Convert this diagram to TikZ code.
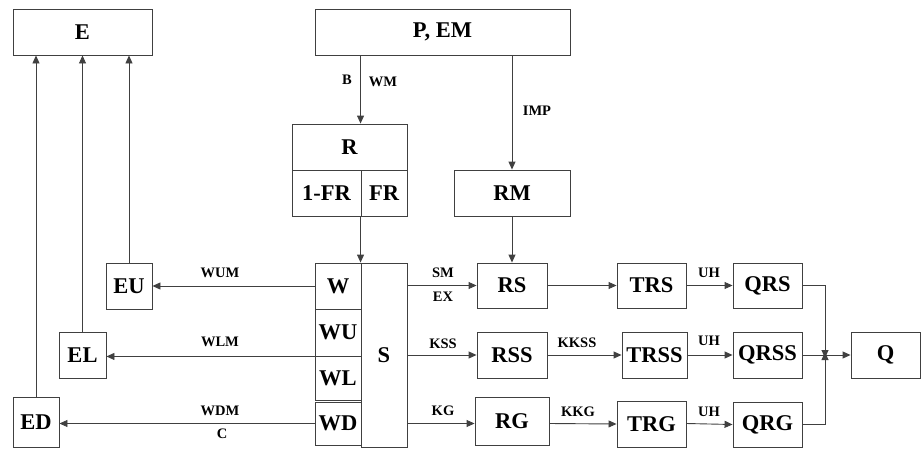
\documentclass[tikz,border=0pt]{standalone}
\usepackage{fontspec}
\setmainfont{Liberation Serif}
\usetikzlibrary{arrows.meta}
\begin{document}
\begin{tikzpicture}[x=1pt,y=-1pt,
  box/.style={draw=black!75,line width=0.9pt,inner sep=0pt,font=\fontsize{22.5}{24}\selectfont\bfseries},
  lbl/.style={font=\fontsize{14.5}{16}\selectfont\bfseries,inner sep=0pt},
  conn/.style={draw=black!75,line width=0.9pt},
  arr/.style={conn,-{Triangle[length=8pt,width=7pt]}}]
\useasboundingbox (0,0) rectangle (922,448);
% top boxes
\node[box,minimum width=139,minimum height=46] (E) at (82.5,32) {E};
\node[box,minimum width=255,minimum height=46] (PEM) at (442.5,32) {P, EM};
\node[box,minimum width=115,minimum height=46] (R) at (349.5,147) {R};
\node[box,minimum width=69,minimum height=46] (oFR) at (326.5,193) {1-FR};
\node[box,minimum width=46,minimum height=46] (FR) at (384,193) {FR};
\node[box,minimum width=116,minimum height=46] (RM) at (512,193) {RM};
% W column and S
\node[box,minimum width=46,minimum height=184] (S) at (384,355) {S};
\node[box,minimum width=46,minimum height=46] (W) at (338,286) {W};
\node[box,minimum width=46,minimum height=47] (WU) at (338,332.5) {WU};
\node[box,minimum width=46,minimum height=44] (WL) at (338,378) {WL};
\node[box,minimum width=46,minimum height=43] (WD) at (338,423.5) {WD};
% E boxes
\node[box,minimum width=46,minimum height=46] (EU) at (129,286) {EU};
\node[box,minimum width=47,minimum height=46] (EL) at (82.5,355) {EL};
\node[box,minimum width=46,minimum height=50] (ED) at (36,422) {ED};
% right chain
\node[box,minimum width=70,minimum height=45] (RS) at (512,285.5) {RS};
\node[box,minimum width=69,minimum height=45] (TRS) at (651.5,285.5) {TRS};
\node[box,minimum width=69,minimum height=45] (QRS) at (767.5,285.5) {QRS};
\node[box,minimum width=70,minimum height=46] (RSS) at (512,355) {RSS};
\node[box,minimum width=65,minimum height=46] (TRSS) at (654.5,355) {TRSS};
\node[box,minimum width=69,minimum height=46] (QRSS) at (767.5,355) {QRSS};
\node[box,minimum width=74,minimum height=48] (RG) at (512,421) {RG};
\node[box,minimum width=69,minimum height=46] (TRG) at (651.5,424) {TRG};
\node[box,minimum width=69,minimum height=45] (QRG) at (767.5,424.5) {QRG};
\node[box,minimum width=69,minimum height=46] (Q) at (885.5,355) {Q};
\coordinate (J) at (825,355);
% connectors top
\draw[arr] (PEM.south -| FR.west) -- (R.north -| FR.west);
\draw[arr] (PEM.south -| RM.north) -- (RM.north);
\draw[arr] (FR.south west) -- (S.north west);
\draw[arr] (RM.south) -- (RS.north);
% to E
\draw[arr] (EU.north) -- (E.south -| EU.north);
\draw[arr] (EL.north) -- (E.south -| EL.north);
\draw[arr] (ED.north) -- (E.south -| ED.north);
% left arrows
\draw[arr] (W.west) -- (EU.east);
\draw[arr] (WU.south west) -- (EL.east |- WU.south west);
\draw[arr] (WD.west) -- (ED.east |- WD.west);
% S to chain
\draw[arr] (S.east |- RS.west) -- (RS.west);
\draw[arr] (S.east |- RSS.west) -- (RSS.west);
\draw[arr] (S.east |- WD.west) -- (RG.west |- WD.west);
\draw[arr] (RS.east) -- (TRS.west);
\draw[arr] (TRS.east) -- (QRS.west);
\draw[arr] (RSS.east) -- (TRSS.west);
\draw[arr] (TRSS.east) -- (QRSS.west);
\draw[arr] (RG.east |- WD.west) -- (TRG.west);
\draw[arr] (TRG.east |- WD.west) -- (QRG.west);
\draw[arr] (QRS.east) -| ([yshift=-3]J);
\draw[arr] (QRG.east) -| ([yshift=3]J);
\draw[arr] (QRSS.east) -- (Q.west);
% labels
\node[lbl] (lB) at (347,80) {B};
\node[lbl] (lWM) at (383,82) {WM};
\node[lbl] (lIMP) at (537,111) {IMP};
\node[lbl] (lWUM) at (220,273) {WUM};
\node[lbl] (lWLM) at (220,342) {WLM};
\node[lbl] (lWDM) at (220,411) {WDM};
\node[lbl] (lC) at (222,434) {C};
\node[lbl] (lSM) at (443,273) {SM};
\node[lbl] (lEX) at (443,297) {EX};
\node[lbl] (lKSS) at (443,344) {KSS};
\node[lbl] (lKG) at (443,411) {KG};
\node[lbl] (lKKSS) at (577,343) {KKSS};
\node[lbl] (lKKG) at (578,412) {KKG};
\node[lbl] (lUH1) at (709,273) {UH};
\node[lbl] (lUH2) at (709,341) {UH};
\node[lbl] (lUH3) at (709,412) {UH};
\end{tikzpicture}
\end{document}
